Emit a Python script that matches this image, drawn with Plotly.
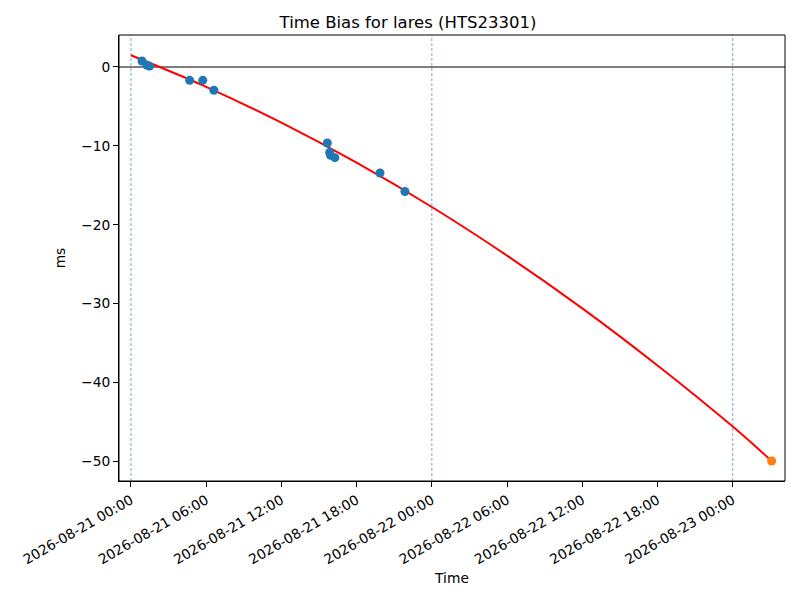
import plotly.graph_objects as go

# measured time bias points
obs_times = ["2026-08-21 00:53", "2026-08-21 01:17", "2026-08-21 01:29",
             "2026-08-21 04:41", "2026-08-21 05:44", "2026-08-21 06:37",
             "2026-08-21 15:40", "2026-08-21 15:51", "2026-08-21 15:55",
             "2026-08-21 16:16", "2026-08-21 19:52", "2026-08-21 21:51"]
obs_ms = [0.75, 0.2, 0.1, -1.7, -1.7, -2.95,
          -9.65, -10.85, -11.2, -11.5, -13.45, -15.8]

# fit curve
fit_times = ["2026-08-21 00:00", "2026-08-21 06:00", "2026-08-21 12:00",
             "2026-08-21 18:00", "2026-08-22 00:00", "2026-08-22 06:00",
             "2026-08-22 12:00", "2026-08-22 18:00", "2026-08-23 00:00",
             "2026-08-23 03:06"]
fit_ms = [1.48, -2.52, -7.07, -12.14, -17.76, -23.92, -30.61, -37.85, -45.6, -49.96]

# predicted point
pred_time = ["2026-08-23 03:06"]
pred_ms = [-49.96]

day_lines = ["2026-08-21 00:00", "2026-08-22 00:00", "2026-08-23 00:00"]

fig = go.Figure()

fig.add_trace(go.Scatter(x=fit_times, y=fit_ms, mode="lines",
                         line=dict(color="red", width=2, shape="spline"),
                         showlegend=False))
fig.add_trace(go.Scatter(x=obs_times, y=obs_ms, mode="markers",
                         marker=dict(color="#1f77b4", size=9),
                         showlegend=False))
fig.add_trace(go.Scatter(x=pred_time, y=pred_ms, mode="markers",
                         marker=dict(color="#ff7f0e", size=9),
                         showlegend=False))

for d in day_lines:
    fig.add_vline(x=d, line=dict(color="#3a8ac4", width=0.8, dash="3px,2px"),
                  opacity=0.9, layer="below")
fig.add_hline(y=0, line=dict(color="black", width=1.1), layer="below")

# axes frame
fig.add_shape(type="rect", xref="paper", yref="paper", x0=0, y0=0, x1=1, y1=1,
              line=dict(color="black", width=1))

# page body has an 8px margin, so the margins are shifted by that
fig.update_layout(
    width=800, height=600,
    paper_bgcolor="white", plot_bgcolor="white",
    margin=dict(l=111, r=23, t=27, b=127),
    font=dict(family="DejaVu Sans", size=14, color="black"),
    title=dict(text="Time Bias for lares (HTS23301)", x=0.5, xanchor="center",
               y=0.977, yanchor="middle", font=dict(size=16.5)),
)

fig.update_xaxes(
    range=["2026-08-20 23:03", "2026-08-23 04:10"],
    tickformat="%Y-%m-%d %H:%M", dtick=6 * 3600 * 1000,
    tick0="2026-08-21 00:00", tickangle=-30, tickfont=dict(size=13.8),
    showgrid=False, zeroline=False, automargin=False,
    showline=True, linecolor="black", linewidth=1,
    ticks="outside", ticklen=5, tickcolor="black",
    title=dict(text="Time", standoff=6, font=dict(size=13.8)),
)
fig.update_yaxes(
    range=[-52.5, 4.05], dtick=10, tickfont=dict(size=13.8),
    showgrid=False, zeroline=False, automargin=False,
    showline=True, linecolor="black", linewidth=1,
    ticks="outside", ticklen=5, tickcolor="black",
    title=dict(text="ms", standoff=12, font=dict(size=13.8)),
)

fig.write_html("out.html")
